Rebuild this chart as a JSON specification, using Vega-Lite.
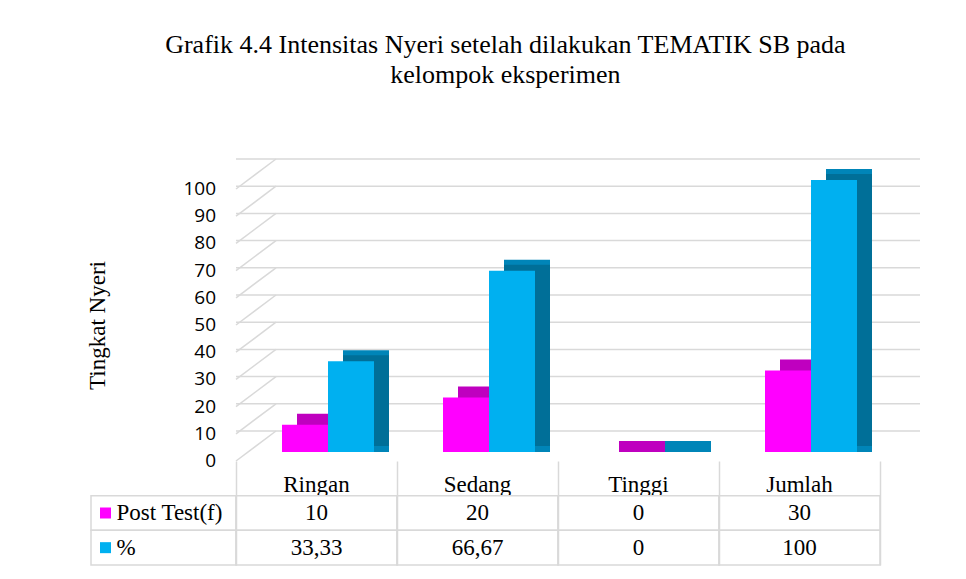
{
  "$schema": "https://vega.github.io/schema/vega-lite/v6.json",
  "background": "white",
  "autosize": {"type": "pad"},
  "padding": {"left": 86, "top": 32, "right": 5, "bottom": 5},
  "title": {
    "text": ["Grafik 4.4 Intensitas Nyeri setelah dilakukan TEMATIK SB  pada", "kelompok eksperimen"],
    "font": "Liberation Serif",
    "fontSize": 26,
    "fontWeight": "normal",
    "color": "#000000",
    "anchor": "middle",
    "lineHeight": 30,
    "offset": 70,
    "dx": 2
  },
  "datasets": {
    "bars": [
      {"kategori": "Ringan", "seri": "Post Test(f)", "nilai": 10},
      {"kategori": "Sedang", "seri": "Post Test(f)", "nilai": 20},
      {"kategori": "Tinggi", "seri": "Post Test(f)", "nilai": 0},
      {"kategori": "Jumlah", "seri": "Post Test(f)", "nilai": 30},
      {"kategori": "Ringan", "seri": "%", "nilai": 33.33},
      {"kategori": "Sedang", "seri": "%", "nilai": 66.67},
      {"kategori": "Tinggi", "seri": "%", "nilai": 0},
      {"kategori": "Jumlah", "seri": "%", "nilai": 100}
    ],
    "grid": [
      {"v": 0}, {"v": 10}, {"v": 20}, {"v": 30}, {"v": 40}, {"v": 50},
      {"v": 60}, {"v": 70}, {"v": 80}, {"v": 90}, {"v": 100}
    ],
    "rows": [
      {"baris": "Post Test(f)"}, {"baris": "%"}
    ]
  },
  "columns": 2,
  "spacing": 0,
  "bounds": "flush",
  "concat": [
    {
      "width": 145,
      "height": 272,
      "data": {"values": [{"kosong": ""}]},
      "mark": {"type": "text"},
      "encoding": {"text": {"field": "kosong", "type": "nominal"}}
    },
    {
      "width": 644,
      "height": 272,
      "layer": [
        {
          "data": {"name": "grid"},
          "mark": {"type": "rule", "color": "#d9d9d9", "strokeWidth": 1.5, "xOffset": 40, "x2Offset": 42, "yOffset": -30},
          "encoding": {
            "y": {
              "field": "v", "type": "quantitative",
              "scale": {"domain": [0, 100], "nice": false},
              "axis": {"orient": "left", "domain": false, "ticks": false, "grid": false, "labels": false, "title": "Tingkat Nyeri", "titleFont": "Liberation Serif", "titleFontSize": 23, "titleFontWeight": "normal", "titleColor": "#000000", "titlePadding": 127}
            }
          }
        },
        {
          "data": {"name": "grid"},
          "mark": {"type": "rule", "color": "#d9d9d9", "strokeWidth": 1.5, "x2Offset": 40, "y2Offset": -30},
          "encoding": {
            "x": {"value": 0},
            "x2": {"value": 0},
            "y": {"field": "v", "type": "quantitative"},
            "y2": {"field": "v"}
          }
        },
        {
          "data": {"name": "grid"},
          "mark": {"type": "text", "align": "right", "baseline": "middle", "dx": -20, "font": "Open Sans", "fontSize": 19, "color": "#000000"},
          "encoding": {
            "x": {"value": 0},
            "y": {"field": "v", "type": "quantitative"},
            "text": {"field": "v", "type": "quantitative"}
          }
        },
        {
          "data": {"name": "bars"},
          "transform": [{"filter": "datum.seri === 'Post Test(f)'"}],
          "mark": {"type": "bar", "width": 46, "xOffset": 3.5, "yOffset": -20, "y2Offset": -9, "color": "#bf00bf"},
          "encoding": {
            "x": {
              "field": "kategori", "type": "nominal", "sort": ["Ringan", "Sedang", "Tinggi", "Jumlah"],
              "scale": {"paddingInner": 0, "paddingOuter": 0},
              "axis": {"orient": "bottom", "domain": false, "ticks": false, "grid": false, "labelAngle": 0, "labelPadding": 12, "labelFont": "Liberation Serif", "labelFontSize": 23, "labelColor": "#000000", "title": null}
            },
            "y": {"field": "nilai", "type": "quantitative"},
            "y2": {"datum": 0}
          }
        },
        {
          "data": {"name": "bars"},
          "transform": [{"filter": "datum.seri === 'Post Test(f)'"}],
          "mark": {"type": "bar", "width": 46, "xOffset": -11.5, "yOffset": -9, "y2Offset": -9, "color": "#ff00ff"},
          "encoding": {
            "x": {"field": "kategori", "type": "nominal", "sort": ["Ringan", "Sedang", "Tinggi", "Jumlah"]},
            "y": {"field": "nilai", "type": "quantitative"},
            "y2": {"datum": 0}
          }
        },
        {
          "data": {"name": "bars"},
          "transform": [{"filter": "datum.seri === '%'"}],
          "mark": {"type": "bar", "width": 46, "xOffset": 49.5, "yOffset": -20, "y2Offset": -9, "color": "#0085b8"},
          "encoding": {
            "x": {"field": "kategori", "type": "nominal", "sort": ["Ringan", "Sedang", "Tinggi", "Jumlah"]},
            "y": {"field": "nilai", "type": "quantitative"},
            "y2": {"datum": 0}
          }
        },
        {
          "data": {"name": "bars"},
          "transform": [{"filter": "datum.seri === '%'"}],
          "mark": {"type": "bar", "width": 46, "xOffset": 49.5, "yOffset": -15, "y2Offset": -15, "color": "#006f98"},
          "encoding": {
            "x": {"field": "kategori", "type": "nominal", "sort": ["Ringan", "Sedang", "Tinggi", "Jumlah"]},
            "y": {"field": "nilai", "type": "quantitative"},
            "y2": {"datum": 0}
          }
        },
        {
          "data": {"name": "bars"},
          "transform": [{"filter": "datum.seri === '%'"}],
          "mark": {"type": "bar", "width": 46, "xOffset": 34.5, "yOffset": -9, "y2Offset": -9, "color": "#00b0f0"},
          "encoding": {
            "x": {"field": "kategori", "type": "nominal", "sort": ["Ringan", "Sedang", "Tinggi", "Jumlah"]},
            "y": {"field": "nilai", "type": "quantitative"},
            "y2": {"datum": 0}
          }
        }
      ]
    },
    {
      "width": 145,
      "height": 104,
      "data": {"name": "rows"},
      "layer": [
        {
          "mark": {"type": "rect", "fill": "white", "stroke": "#d9d9d9", "strokeWidth": 1.5},
          "encoding": {
            "y": {"field": "baris", "type": "nominal", "scale": {"domain": ["Kategori", "Post Test(f)", "%"], "paddingInner": 0, "paddingOuter": 0}, "axis": null}
          }
        },
        {
          "mark": {"type": "square", "size": 121, "filled": true, "opacity": 1, "xOffset": -58},
          "encoding": {
            "y": {"field": "baris", "type": "nominal"},
            "color": {"condition": {"test": "datum.baris === 'Post Test(f)'", "value": "#ff00ff"}, "value": "#00b0f0"}
          }
        },
        {
          "mark": {"type": "text", "align": "left", "xOffset": -47, "font": "Liberation Serif", "fontSize": 23, "color": "#000000"},
          "encoding": {
            "y": {"field": "baris", "type": "nominal"},
            "text": {"field": "baris", "type": "nominal"}
          }
        }
      ]
    },
    {
      "width": 644,
      "height": 104,
      "data": {"name": "bars"},
      "layer": [
        {
          "mark": {"type": "rect", "fill": "white", "stroke": "#d9d9d9", "strokeWidth": 1.5},
          "encoding": {
            "x": {
              "field": "kategori", "type": "nominal", "sort": ["Ringan", "Sedang", "Tinggi", "Jumlah"],
              "scale": {"paddingInner": 0, "paddingOuter": 0},
              "axis": {"labels": false, "ticks": false, "domain": false, "grid": true, "tickBand": "extent", "gridColor": "#d9d9d9", "gridWidth": 1.5, "title": null}
            },
            "y": {"field": "seri", "type": "nominal", "scale": {"domain": ["Kategori", "Post Test(f)", "%"], "paddingInner": 0, "paddingOuter": 0}, "axis": null}
          }
        },
        {
          "mark": {"type": "text", "font": "Liberation Serif", "fontSize": 23, "color": "#000000", "text": {"expr": "replace(format(datum.nilai, '.4~r'), '.', ',')"}},
          "encoding": {
            "x": {"field": "kategori", "type": "nominal", "sort": ["Ringan", "Sedang", "Tinggi", "Jumlah"]},
            "y": {"field": "seri", "type": "nominal"}
          }
        }
      ]
    }
  ],
  "config": {
    "view": {"stroke": null}
  }
}
